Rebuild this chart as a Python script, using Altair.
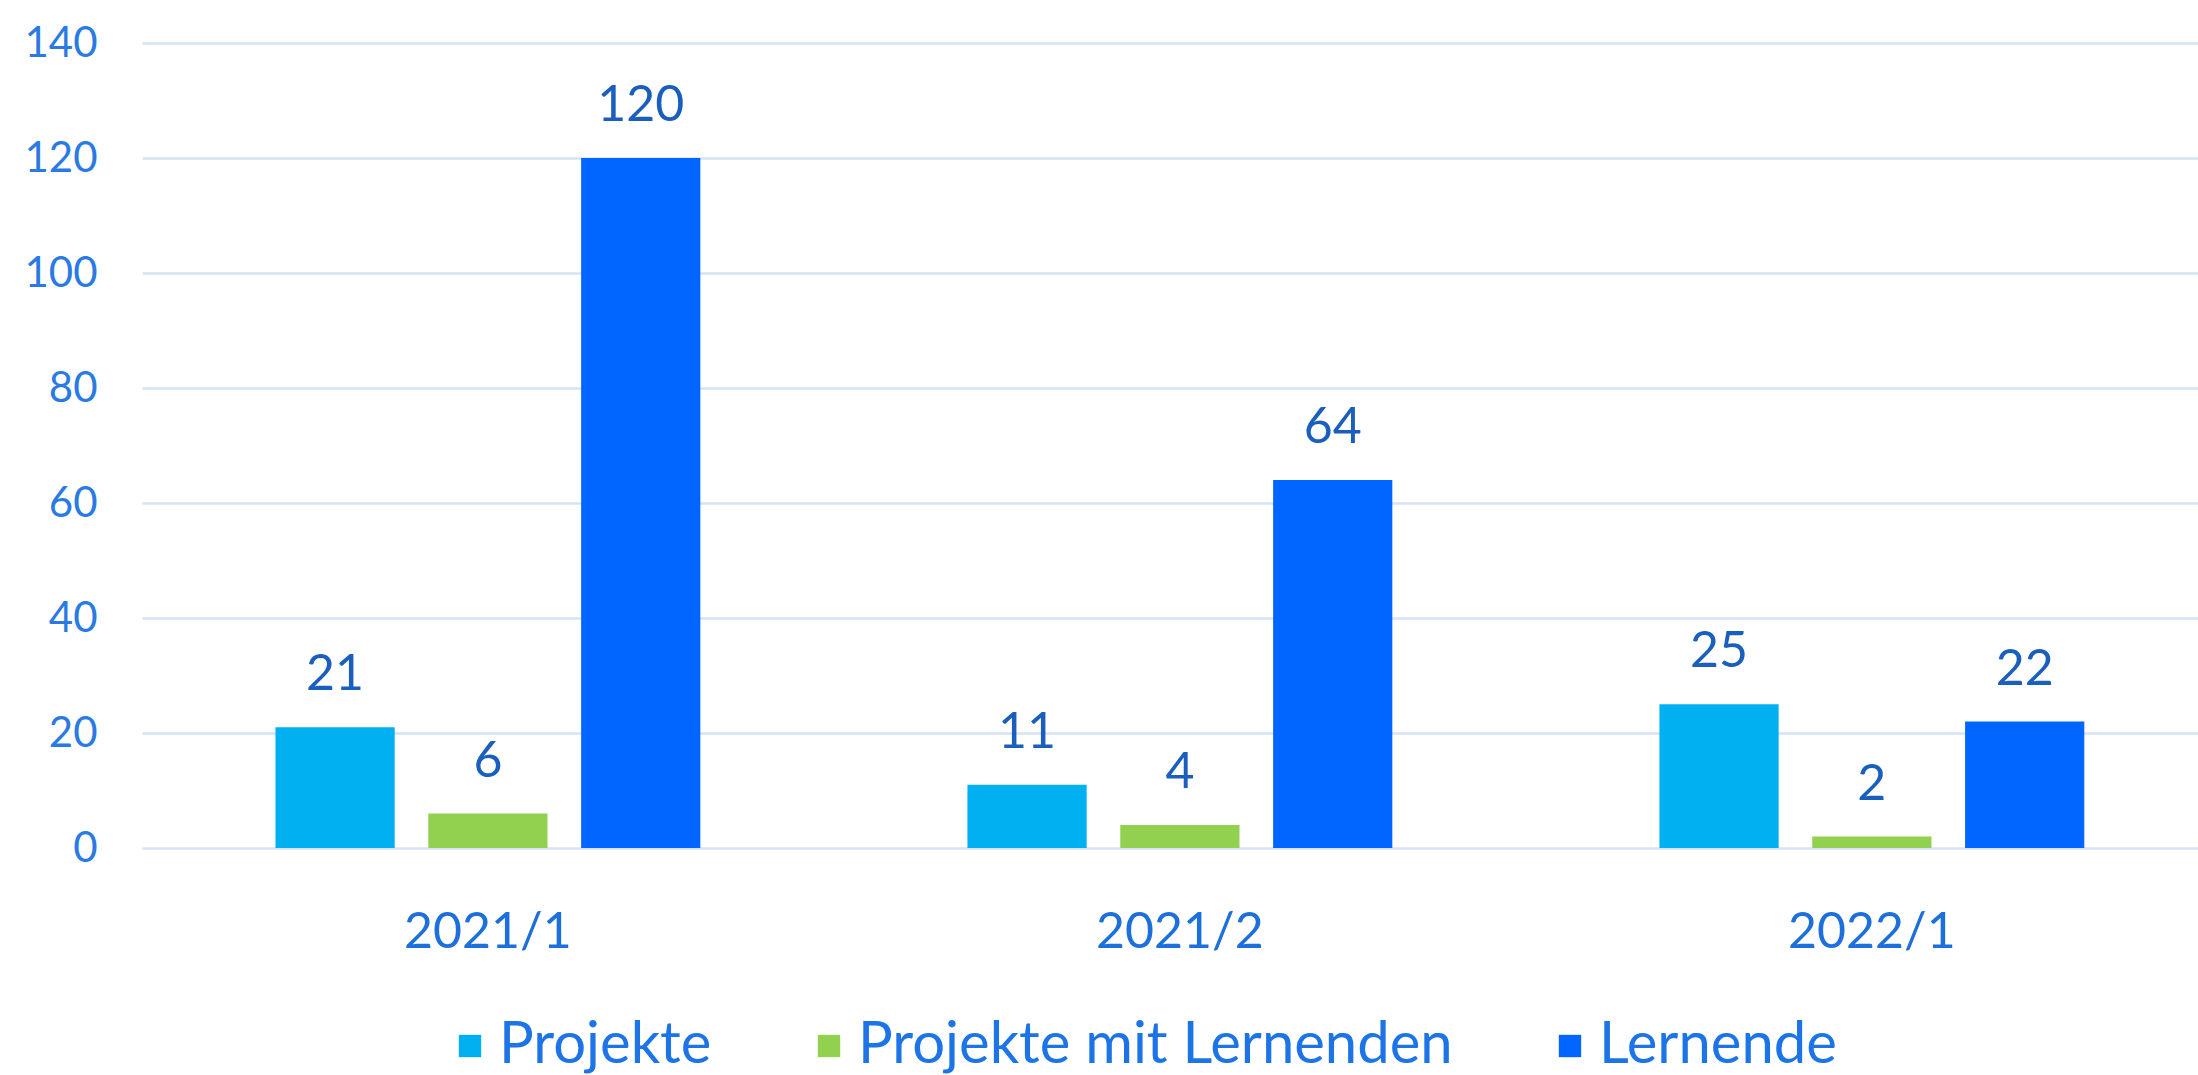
import altair as alt
import pandas as pd

periods = ["2021/1", "2021/2", "2022/1"]
series = ["Projekte", "Projekte mit Lernenden", "Lernende"]
projekte = [21, 11, 25]
projekte_mit = [6, 4, 2]
lernende = [120, 64, 22]
colors = ["#00B0F0", "#92D050", "#0066FF"]
y_ticks = [0, 20, 40, 60, 80, 100, 120, 140]

rows = []
for i, p in enumerate(periods):
    for s, vals in zip(series, [projekte, projekte_mit, lernende]):
        rows.append({"Periode": p, "Serie": s, "Wert": vals[i]})
df = pd.DataFrame(rows)

FONT = "Lato"

x_enc = alt.X("Periode:N", sort=periods,
              scale=alt.Scale(paddingInner=0.386, paddingOuter=0.1786, align=0.54),
              axis=alt.Axis(title=None, labelAngle=0, labelFontSize=50, labelFont=FONT,
                            labelColor="#1D6FDB", labelPadding=59, domain=False,
                            ticks=False, grid=False))
xo_enc = alt.XOffset("Serie:N", sort=series,
                     scale=alt.Scale(paddingInner=0.22, paddingOuter=0))
y_enc = alt.Y("Wert:Q", scale=alt.Scale(domain=[0, 140], nice=False),
              axis=alt.Axis(title=None, values=y_ticks, labelFontSize=42, labelFont=FONT,
                            labelColor="#2A7AE4", labelPadding=45, domain=False,
                            ticks=False, grid=True, gridColor="#D5E3F4", gridWidth=2.5))

bars = alt.Chart(df).mark_bar().encode(
    x=x_enc,
    xOffset=xo_enc,
    y=y_enc,
    color=alt.Color("Serie:N", sort=series,
                    scale=alt.Scale(domain=series, range=colors),
                    legend=alt.Legend(title=None, orient="none", direction="horizontal",
                                      legendX=299, legendY=974, columns=3, padding=0,
                                      symbolType="square", symbolSize=500,
                                      symbolStrokeWidth=0, labelFontSize=58,
                                      labelFont=FONT, labelColor="#1C74E6",
                                      labelLimit=2000,
                                      labelOffset=0, columnPadding=88)),
)

labels = alt.Chart(df).mark_text(baseline="alphabetic", dy=-37, fontSize=50,
                                 font=FONT, color="#1B5FBD").encode(
    x=alt.X("Periode:N", sort=periods),
    xOffset=alt.XOffset("Serie:N", sort=series),
    y="Wert:Q",
    text="Wert:Q",
)

chart = alt.layer(bars, labels).properties(
    width=2056, height=805,
    autosize=alt.AutoSizeParams(type="none"),
    padding={"left": 142, "top": 43, "right": 0, "bottom": 227},
    background="white",
).configure_view(stroke=None)

chart.save("out.html", embed_options={"renderer": "svg", "actions": False})
